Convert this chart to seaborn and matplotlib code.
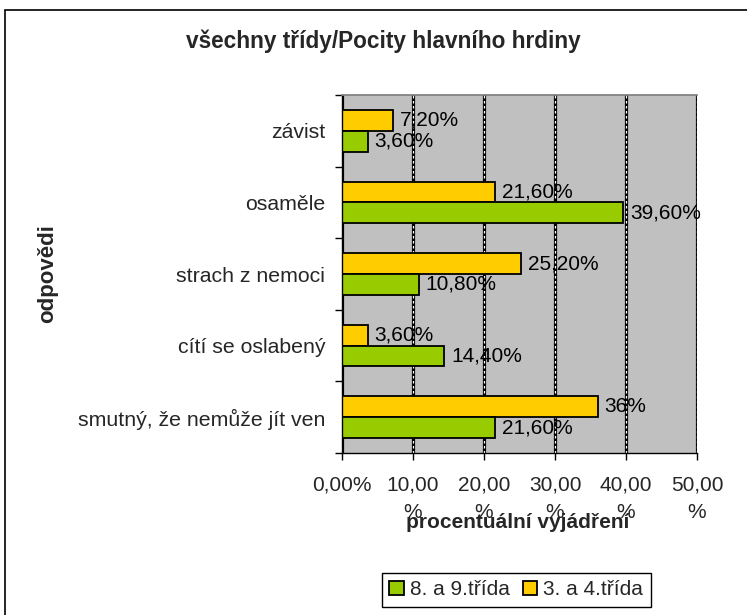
import numpy as np
import pandas as pd
import matplotlib
matplotlib.use("Agg")
import matplotlib.pyplot as plt
import seaborn as sns
from matplotlib.patches import Rectangle

# data
categories = ["závist", "osaměle", "strach z nemoci", "cítí se oslabený",
              "smutný, že nemůže jít ven"]
series_names = ["3. a 4.třída", "8. a 9.třída"]
vals_34 = [7.2, 21.6, 25.2, 3.6, 36.0]
vals_89 = [3.6, 39.6, 10.8, 14.4, 21.6]
labels_34 = ["7,20%", "21,60%", "25,20%", "3,60%", "36%"]
labels_89 = ["3,60%", "39,60%", "10,80%", "14,40%", "21,60%"]
x_ticks = [0, 10, 20, 30, 40, 50]
x_tick_labels = ["0,00%", "10,00\n%", "20,00\n%", "30,00\n%", "40,00\n%", "50,00\n%"]

df = pd.DataFrame({
    "odpoved": categories * 2,
    "trida": [series_names[0]] * len(categories) + [series_names[1]] * len(categories),
    "procento": vals_34 + vals_89,
})

sns.set_theme(style="white")
plt.rcParams["font.family"] = ["Liberation Sans", "DejaVu Sans"]

W, H = 747, 615
fig = plt.figure(figsize=(W / 100, H / 100), dpi=100)
fig.patches.append(Rectangle((5 / W, -0.1), 1.2, 1 - 10 / H + 0.1, transform=fig.transFigure,
                             fill=False, edgecolor="black", linewidth=1.2))

ax = fig.add_axes([342 / W, (H - 453) / H, 355 / W, 358 / H])
ax.set_facecolor("#C0C0C0")

colors = {series_names[0]: "#FFCC00", series_names[1]: "#99CC00"}
sns.barplot(data=df, x="procento", y="odpoved", hue="trida", hue_order=series_names,
            order=categories, palette=colors, saturation=1, width=0.58,
            edgecolor="black", linewidth=1.3, ax=ax, legend=True, zorder=2)

for cont, labs in zip(ax.containers, [labels_34, labels_89]):
    ax.bar_label(cont, labels=labs, padding=5, fontsize=15, color="black")

ax.set_xlim(0, 50)
ax.set_ylim(len(categories) - 0.5, -0.5)
ax.set_xticks(x_ticks)
ax.set_xticklabels(x_tick_labels, fontsize=15, linespacing=1.6)
ax.tick_params(axis="x", direction="out", length=5, width=1, color="black", pad=11,
               bottom=True)

ax.set_yticks(np.arange(len(categories) + 1) - 0.5)
ax.set_yticklabels([])
ax.set_yticks(np.arange(len(categories)), minor=True)
ax.set_yticklabels(categories, minor=True, fontsize=15.3)
ax.tick_params(axis="y", which="major", direction="out", length=5, width=1, color="black",
               left=True)
ax.tick_params(axis="y", which="minor", length=0, pad=12)

ax.set_xlabel("")
ax.set_ylabel("")

# double black/white dashed gridlines
ax.xaxis.grid(True, color="black", linewidth=2.3, zorder=0.5)
ax.set_axisbelow(True)
for xt in ax.get_xticks()[1:]:
    ax.axvline(xt, color="white", linewidth=0.9, linestyle=(0, (2, 2)), zorder=0.6)

for side in ["left", "bottom"]:
    ax.spines[side].set_color("black")
    ax.spines[side].set_linewidth(1)
ax.spines["top"].set_color("#808080")
ax.spines["right"].set_visible(False)

fig.text(383 / W, 1 - 41 / H, "všechny třídy/Pocity hlavního hrdiny", ha="center",
         va="center", fontsize=16.3, fontweight="bold")
fig.text(518 / W, 1 - 523 / H, "procentuální vyjádření", ha="center", va="center",
         fontsize=15, fontweight="bold")
fig.text(48 / W, 1 - 274 / H, "odpovědi", ha="center", va="center", rotation=90,
         fontsize=16, fontweight="bold")

handles, labs = ax.get_legend_handles_labels()
ax.get_legend().remove()
leg = fig.legend(handles[::-1], labs[::-1], loc="upper left",
                 bbox_to_anchor=(382 / W, 1 - 573 / H), ncol=2, fontsize=15,
                 frameon=True, fancybox=False, edgecolor="black", framealpha=1,
                 handlelength=0.7, handleheight=0.7, handletextpad=0.3,
                 columnspacing=0.6, borderpad=0.35, borderaxespad=0)
leg.get_frame().set_linewidth(1)

fig.savefig("out.png", dpi=100)
